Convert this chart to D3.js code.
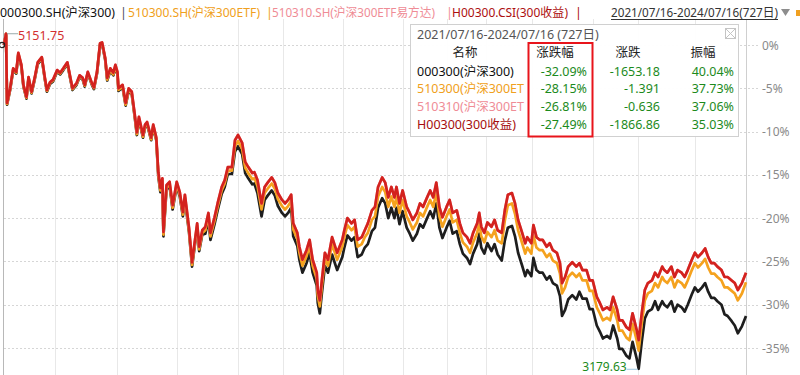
<!DOCTYPE html>
<html><head><meta charset="utf-8">
<script src="https://cdn.jsdelivr.net/npm/d3@7"></script>
<style>
body{margin:0;background:#fff}
svg{display:block}
text{font-family:"Noto Sans","Noto Sans CJK SC",sans-serif}
</style>
</head><body>
<svg id="c" width="800" height="375"></svg>
<script>
// ---------- DATA ----------
const days = [0,2,3,6,9,12,14,17,19,22,24,27,30,33,37,40,42,45,48,52,55,58,62,65,67,71,74,77,79,82,86,88,91,94,96,99,
101,104,107,109,111,112,116,119,122,125,128,130,132,136,138,140,144,146,149,
151,153,155,156,159,162,165,169,172,175,177,181,184,189,191,194,
197,200,202,206,209,213,216,219,223,
226,229,233,236,239,243,245,
248,252,255,258,262,265,268,272,275,278,281,283,287,289,292,296,299,302,306,307,309,311,314,317,
321,324,326,331,333,336,340,343,346,350,353,
356,360,363,366,370,373,376,379,382,384,387,390,394,397,400,404,407,410,414,417,420,423,426,429,433,436,439,443,446,449,453,456,459,463,465,467,470,473,
477,480,483,487,490,
493,497,500,503,507,510,512,516,518,521,524,527,531,534,537,541,544,546,549,552,556,560,
563,566,570,573,576,580,583,586,590,593,596,600,602,605,609,612,615,619,621,624,627,630,634,637,
640,644,646,649,653,656,659,663,666,669,673,676,679,683,686,689,692,695,698,702,705,708,712,715,718,722,726];

// 000300.SH 沪深300 (% change)
const csi300 = [0,1.3,-6.9,-5.2,-2.9,-3.3,-1.1,-2.5,-4.8,-6.2,-3.9,-5.6,-4.0,-2.2,-1.6,-4.0,-5.4,-4.5,-4.2,-3.1,-3.4,-2.9,-2.2,-4.0,-5.2,-4.6,-3.7,-4.0,-4.8,-3.3,-4.6,-5.1,-3.3,0.0,0.1,-1.7,
-4.1,-3.0,-3.5,-2.6,-3.4,-5.3,-4.9,-7.0,-5.3,-5.7,-8.4,-10.4,-8.6,-10.7,-9.5,-9.2,-11.0,-9.5,-11.0,
-15.2,-17.0,-15.9,-22.1,-16.7,-16.3,-19.0,-16.3,-17.5,-19.8,-17.8,-21.6,-25.6,-21.1,-23.8,-21.9,
-21.8,-20.2,-22.5,-20.7,-19.1,-17.2,-16.4,-14.9,-14.9,
-12.3,-11.7,-12.6,-14.8,-15.4,-16.1,-16.0,
-17.1,-19.8,-17.9,-17.4,-16.8,-17.4,-18.6,-19.4,-19.8,-19.4,-18.8,-22.1,-23.2,-24.8,-26.3,-25.2,-24.0,-26.3,-27.8,-29.8,-31.0,-28.7,-25.5,-26.3,
-24.2,-25.3,-26.0,-24.5,-23.4,-22.0,-22.6,-22.2,-24.5,-24.2,-23.4,
-23.0,-21.5,-21.1,-18.8,-17.7,-18.3,-20.0,-18.8,-20.0,-18.8,-20.7,-19.2,-21.1,-21.8,-22.6,-21.8,-20.7,-21.1,-20.0,-19.2,-20.0,-18.3,-21.1,-22.3,-21.1,-20.3,-21.8,-21.5,-23.0,-24.1,-24.6,-25.3,-24.1,-23.0,-21.8,-23.4,-24.1,-22.9,
-23.8,-23.0,-24.2,-24.9,-22.6,
-21.1,-20.9,-22.1,-24.0,-25.5,-26.7,-26.0,-26.7,-24.6,-26.0,-26.3,-26.3,-27.1,-26.7,-27.5,-27.8,-29.0,-31.3,-30.6,-29.4,-28.9,-29.4,
-28.5,-29.3,-29.3,-30.5,-30.5,-32.4,-33.1,-33.9,-33.6,-33.9,-32.4,-33.9,-35.1,-35.1,-35.9,-36.2,-34.3,-36.2,-37.4,-34.3,-31.6,-30.8,-30.5,-29.6,
-30.6,-29.6,-30.0,-30.3,-29.6,-30.8,-30.0,-30.3,-30.8,-30.0,-28.8,-28.0,-28.5,-28.0,-27.5,-28.5,-29.2,-29.2,-29.6,-30.0,-31.1,-31.3,-31.9,-32.4,-33.3,-32.5,-31.3];

// 510300.SH 沪深300ETF
const etf510300 = [0,1.3,-6.8,-5.1,-2.8,-3.2,-1.0,-2.4,-4.7,-6.1,-3.8,-5.5,-3.9,-2.1,-1.5,-3.9,-5.3,-4.4,-4.1,-3.0,-3.3,-2.8,-2.1,-3.9,-5.1,-4.5,-3.6,-3.9,-4.7,-3.2,-4.5,-5.0,-3.2,0.1,0.2,-1.6,
-4.0,-2.9,-3.4,-2.5,-3.3,-5.2,-4.8,-6.9,-5.2,-5.6,-8.3,-10.3,-8.5,-10.6,-9.4,-9.1,-10.9,-9.4,-10.9,
-15.0,-16.8,-15.7,-21.9,-16.5,-16.1,-18.8,-16.1,-17.3,-19.6,-17.6,-21.4,-25.4,-20.9,-23.6,-21.7,
-21.4,-19.8,-22.1,-20.3,-18.7,-16.8,-16.0,-14.5,-14.5,
-11.7,-11.1,-12.0,-14.2,-14.8,-15.5,-15.4,
-16.3,-19.0,-17.1,-16.6,-16.0,-16.6,-17.8,-18.6,-19.0,-18.6,-18.0,-21.3,-22.4,-24.0,-25.5,-24.4,-23.2,-25.5,-27.0,-29.0,-30.2,-27.9,-24.7,-25.5,
-23.0,-24.1,-24.8,-23.3,-22.2,-20.8,-21.4,-21.0,-23.3,-23.0,-22.2,
-21.7,-20.2,-19.8,-17.5,-16.4,-17.0,-18.7,-17.5,-18.7,-17.5,-19.4,-17.9,-19.8,-20.5,-21.3,-20.5,-19.4,-19.8,-18.7,-17.9,-18.7,-17.0,-19.8,-21.0,-19.8,-19.0,-20.5,-20.2,-21.7,-22.8,-23.3,-24.0,-22.8,-21.7,-20.5,-22.1,-22.8,-21.6,
-22.2,-21.4,-22.6,-22.9,-20.3,
-18.5,-18.3,-19.5,-21.4,-22.9,-24.1,-23.4,-24.1,-22.0,-23.4,-23.7,-23.7,-24.5,-24.1,-24.9,-25.2,-26.4,-28.7,-28.0,-26.8,-26.3,-26.8,
-26.4,-27.2,-27.2,-28.4,-28.4,-30.3,-31.0,-31.8,-31.5,-31.8,-30.3,-31.8,-33.0,-33.0,-33.8,-34.1,-32.2,-34.1,-35.3,-32.2,-29.5,-28.7,-28.4,-27.5,
-28.0,-26.8,-27.2,-27.5,-26.8,-28.0,-27.2,-27.5,-28.0,-27.2,-26.0,-25.2,-25.7,-25.2,-24.7,-25.7,-26.4,-26.4,-26.8,-27.2,-28.0,-28.0,-28.4,-28.7,-29.5,-28.7,-27.4];

// 510310.SH 沪深300ETF易方达 (hidden under the red line)
const etf510310 = [0,1.3,-6.7,-5.0,-2.7,-3.1,-0.9,-2.3,-4.6,-6.0,-3.7,-5.4,-3.8,-2.0,-1.4,-3.8,-5.2,-4.3,-4.0,-2.9,-3.2,-2.7,-2.0,-3.8,-5.0,-4.4,-3.5,-3.8,-4.6,-3.1,-4.4,-4.9,-3.1,0.2,0.3,-1.5,
-3.8,-2.7,-3.2,-2.3,-3.1,-5.0,-4.6,-6.7,-5.0,-5.4,-8.1,-10.1,-8.3,-10.4,-9.2,-8.9,-10.7,-9.2,-10.7,
-14.7,-16.5,-15.4,-21.6,-16.2,-15.8,-18.5,-15.8,-17.0,-19.3,-17.3,-21.1,-25.1,-20.6,-23.3,-21.4,
-21.0,-19.4,-21.7,-19.9,-18.3,-16.4,-15.6,-14.1,-14.1,
-11.0,-10.4,-11.3,-13.5,-14.1,-14.8,-14.7,
-15.6,-18.3,-16.4,-15.9,-15.3,-15.9,-17.1,-17.9,-18.3,-17.9,-17.3,-20.6,-21.7,-23.3,-24.8,-23.7,-22.5,-24.8,-26.3,-28.3,-29.5,-27.2,-24.0,-24.8,
-22.2,-23.3,-24.0,-22.5,-21.4,-20.0,-20.6,-20.2,-22.5,-22.2,-21.4,
-20.6,-19.1,-18.7,-16.4,-15.3,-15.9,-17.6,-16.4,-17.6,-16.4,-18.3,-16.8,-18.7,-19.4,-20.2,-19.4,-18.3,-18.7,-17.6,-16.8,-17.6,-15.9,-18.7,-19.9,-18.7,-17.9,-19.4,-19.1,-20.6,-21.7,-22.2,-22.9,-21.7,-20.6,-19.4,-21.0,-21.7,-20.5,
-21.0,-20.2,-21.4,-21.7,-19.1,
-17.3,-17.1,-18.3,-20.2,-21.7,-22.9,-22.2,-22.9,-20.8,-22.2,-22.5,-22.5,-23.3,-22.9,-23.7,-24.0,-25.2,-27.5,-26.8,-25.6,-25.1,-25.6,
-25.2,-26.0,-26.0,-27.2,-27.2,-29.1,-29.8,-30.6,-30.3,-30.6,-29.1,-30.6,-31.8,-31.8,-32.6,-32.9,-31.0,-32.9,-34.1,-31.0,-28.3,-27.5,-27.2,-26.3,
-26.8,-25.6,-26.0,-26.3,-25.6,-26.8,-26.0,-26.3,-26.8,-26.0,-24.8,-24.0,-24.5,-24.0,-23.5,-24.5,-25.2,-25.2,-25.6,-26.0,-26.8,-26.8,-27.2,-27.5,-28.3,-27.5,-26.3];

// H00300.CSI 300收益
const h00300 = [0,1.3,-6.7,-5.0,-2.7,-3.1,-0.9,-2.3,-4.6,-6.0,-3.7,-5.4,-3.8,-2.0,-1.4,-3.8,-5.2,-4.3,-4.0,-2.9,-3.2,-2.7,-2.0,-3.8,-5.0,-4.4,-3.5,-3.8,-4.6,-3.1,-4.4,-4.9,-3.1,0.2,0.3,-1.5,
-3.8,-2.7,-3.2,-2.3,-3.1,-5.0,-4.6,-6.7,-5.0,-5.4,-8.1,-10.1,-8.3,-10.4,-9.2,-8.9,-10.7,-9.2,-10.7,
-14.7,-16.5,-15.4,-21.6,-16.2,-15.8,-18.5,-15.8,-17.0,-19.3,-17.3,-21.1,-25.1,-20.6,-23.3,-21.4,
-21.0,-19.4,-21.7,-19.9,-18.3,-16.4,-15.6,-14.1,-14.1,
-11.0,-10.4,-11.3,-13.5,-14.1,-14.8,-14.7,
-15.6,-18.3,-16.4,-15.9,-15.3,-15.9,-17.1,-17.9,-18.3,-17.9,-17.3,-20.6,-21.7,-23.3,-24.8,-23.7,-22.5,-24.8,-26.3,-28.3,-29.5,-27.2,-24.0,-24.8,
-22.2,-23.3,-24.0,-22.5,-21.4,-20.0,-20.6,-20.2,-22.5,-22.2,-21.4,
-20.6,-19.1,-18.7,-16.4,-15.3,-15.9,-17.6,-16.4,-17.6,-16.4,-18.3,-16.8,-18.7,-19.4,-20.2,-19.4,-18.3,-18.7,-17.6,-16.8,-17.6,-15.9,-18.7,-19.9,-18.7,-17.9,-19.4,-19.1,-20.6,-21.7,-22.2,-22.9,-21.7,-20.6,-19.4,-21.0,-21.7,-20.5,
-21.0,-20.2,-21.4,-21.7,-19.1,
-17.3,-17.1,-18.3,-20.2,-21.7,-22.9,-22.2,-22.9,-20.8,-22.2,-22.5,-22.5,-23.3,-22.9,-23.7,-24.0,-25.2,-27.5,-26.8,-25.6,-25.1,-25.6,
-25.2,-26.0,-26.0,-27.2,-27.2,-29.1,-29.8,-30.6,-30.3,-30.6,-29.1,-30.6,-31.8,-31.8,-32.6,-32.9,-31.0,-32.9,-34.1,-31.0,-28.3,-27.5,-27.2,-26.3,
-26.8,-25.6,-26.0,-26.3,-25.6,-26.8,-26.0,-26.3,-26.8,-26.0,-24.8,-24.0,-24.5,-24.0,-23.5,-24.5,-25.2,-25.2,-25.6,-26.0,-26.8,-26.8,-27.2,-27.5,-28.3,-27.5,-26.3];

const yTicks = [0,-5,-10,-15,-20,-25,-30,-35];
const gridDays = [50,111,169,229,273,332,390,433,472,517,576,620,676];

const legendLabels = ["000300.SH(沪深300)","510300.SH(沪深300ETF)","510310.SH(沪深300ETF易方达)","H00300.CSI(300收益)"];
const rangeLabel = "2021/07/16-2024/07/16(727日)";
const tableTitle = "2021/07/16-2024/07/16 (727日)";
const tableHeaders = ["名称","涨跌幅","涨跌","振幅"];
const tableNames = ["000300(沪深300)","510300(沪深300ET","510310(沪深300ET","H00300(300收益)"];
const tablePct = ["-32.09%","-28.15%","-26.81%","-27.49%"];
const tableChg = ["-1653.18","-1.391","-0.636","-1866.86"];
const tableAmp = ["40.04%","37.73%","37.06%","35.03%"];
const maxLabel = "5151.75";
const minLabel = "3179.63";

// ---------- STYLE ----------
const seriesColors = ["#1e1e1e","#f5a21e","#f2939c","#d3221e"];
const legendColors = ["#111","#f0a020","#ef8c96","#ad0f0f"];
const sepColors = ["#4a4f5c","#f0a020","#ef8c96","#ad0f0f"];
const nameColors = ["#111","#f0a020","#ef8c96","#a50d0d"];
const green = "#1c8a1c";

const svg = d3.select("#c");
const x = d3.scaleLinear().domain([0,726]).range([4,746]);
const y = d3.scaleLinear().domain([0,-35]).range([45,348]);

// vertical grid
svg.append("g").selectAll("line").data(gridDays).join("line")
  .attr("x1",d=>Math.round(x(d))+0.5).attr("x2",d=>Math.round(x(d))+0.5)
  .attr("y1",19).attr("y2",375).attr("stroke","#e8e8e8").attr("stroke-width",1);

// horizontal grid (dotted) + right axis labels
svg.append("g").selectAll("line").data(yTicks).join("line")
  .attr("x1",4).attr("x2",760)
  .attr("y1",d=>Math.round(y(d))+0.5).attr("y2",d=>Math.round(y(d))+0.5)
  .attr("stroke","#d6d6d6").attr("stroke-dasharray","2,2");
svg.append("g").selectAll("text").data(yTicks).join("text")
  .attr("x",762).attr("y",d=>y(d)+4.5)
  .attr("font-size",12).attr("fill","#8a8a8a")
  .text(d=>d+"%");

// plot borders
svg.append("line").attr("x1",3.5).attr("x2",3.5).attr("y1",19).attr("y2",375).attr("stroke","#b8b8b8");
svg.append("line").attr("x1",746.5).attr("x2",746.5).attr("y1",19).attr("y2",375).attr("stroke","#cfcfcf");

// series
const series = [csi300, etf510300, etf510310, h00300];
const line = d3.line().x((d,i)=>x(days[i])).y(d=>y(d));
svg.append("g").selectAll("path").data(series).join("path")
  .attr("d",d=>line(d)).attr("fill","none")
  .attr("stroke",(d,i)=>seriesColors[i]).attr("stroke-width",2.7)
  .attr("stroke-linejoin","round");

// start marker
svg.append("circle").attr("cx",x(days[0])-2).attr("cy",y(csi300[0])).attr("r",2.6)
  .attr("fill","none").attr("stroke","#222").attr("stroke-width",1.3);

// max label
const iMax = d3.maxIndex(csi300), iMin = d3.minIndex(csi300);
const mx = x(days[iMax]), my = y(csi300[iMax]);
svg.append("line").attr("x1",mx+1).attr("x2",mx+12).attr("y1",my).attr("y2",my).attr("stroke","#9aa").attr("stroke-width",1);
svg.append("text").attr("x",mx+12).attr("y",my+6).attr("font-size",12.5).attr("fill","#d33030").text(maxLabel);
// min label
const nx = x(days[iMin]), ny = y(csi300[iMin]);
svg.append("line").attr("x1",nx-12).attr("x2",nx-1).attr("y1",ny+0.5).attr("y2",ny+0.5).attr("stroke","#9cc6e0").attr("stroke-width",1);
svg.append("text").attr("x",nx-12).attr("y",ny+2.5).attr("text-anchor","end").attr("font-size",12).attr("fill",green).text(minLabel);

// ---------- HEADER ----------
const legendX = [0,128,272,452];
const legendW = [115,132,163,116];
const sepX = [120,266,446,575];
const hdr = svg.append("g").attr("font-size",12.5);
hdr.selectAll("text.lg").data(legendLabels).join("text").attr("class","lg")
  .attr("x",(d,i)=>legendX[i]).attr("y",16.5).attr("fill",(d,i)=>legendColors[i])
  .attr("textLength",(d,i)=>legendW[i]).attr("lengthAdjust","spacingAndGlyphs").text(d=>d);
hdr.selectAll("text.sp").data(sepX).join("text").attr("class","sp")
  .attr("x",d=>d).attr("y",16.5).attr("fill",(d,i)=>sepColors[i]).text("|");
hdr.append("text").attr("x",611).attr("y",16.5).attr("font-size",12.5).attr("fill","#333")
  .attr("textLength",167).attr("lengthAdjust","spacingAndGlyphs").text(rangeLabel);
hdr.append("line").attr("x1",611).attr("x2",778).attr("y1",19.5).attr("y2",19.5).attr("stroke","#333");
hdr.append("path").attr("d","M781,9 L790,9 L785.5,16 Z").attr("fill","#8d8d8d");
hdr.append("rect").attr("x",796).attr("y",10).attr("width",4).attr("height",6).attr("fill","#f0a020");

// ---------- TABLE ----------
const tb = svg.append("g").attr("font-size",12.5);
tb.append("rect").attr("x",410.5).attr("y",24.5).attr("width",328).attr("height",112)
  .attr("fill","#fff").attr("fill-opacity",0.96).attr("stroke","#d0d0d0");
tb.append("text").attr("x",417).attr("y",38.5).attr("fill","#555").text(tableTitle);
tb.append("rect").attr("x",725.5).attr("y",28.5).attr("width",10).attr("height",10).attr("fill","none").attr("stroke","#c4c4c4");
tb.append("path").attr("d","M725.5,28.5 L735.5,38.5 M735.5,28.5 L725.5,38.5").attr("stroke","#c4c4c4");
const headX = [465,555,628,703];
tb.selectAll("text.h").data(tableHeaders).join("text").attr("class","h")
  .attr("x",(d,i)=>headX[i]).attr("y",57).attr("text-anchor","middle").attr("fill","#222").text(d=>d);
const rowY = [75.5,93,110.5,128.5];
tb.selectAll("text.n").data(tableNames).join("text").attr("class","n")
  .attr("x",417).attr("y",(d,i)=>rowY[i]).attr("fill",(d,i)=>nameColors[i]).text(d=>d);
tb.selectAll("text.p").data(tablePct).join("text").attr("class","p")
  .attr("x",587).attr("y",(d,i)=>rowY[i]).attr("text-anchor","end").attr("fill",green).text(d=>d);
tb.selectAll("text.c").data(tableChg).join("text").attr("class","c")
  .attr("x",660).attr("y",(d,i)=>rowY[i]).attr("text-anchor","end").attr("fill",green).text(d=>d);
tb.selectAll("text.a").data(tableAmp).join("text").attr("class","a")
  .attr("x",734).attr("y",(d,i)=>rowY[i]).attr("text-anchor","end").attr("fill",green).text(d=>d);
tb.append("rect").attr("x",528.5).attr("y",43).attr("width",64).attr("height",93.5)
  .attr("fill","none").attr("stroke","#e8141b").attr("stroke-width",2);
</script>
</body></html>
